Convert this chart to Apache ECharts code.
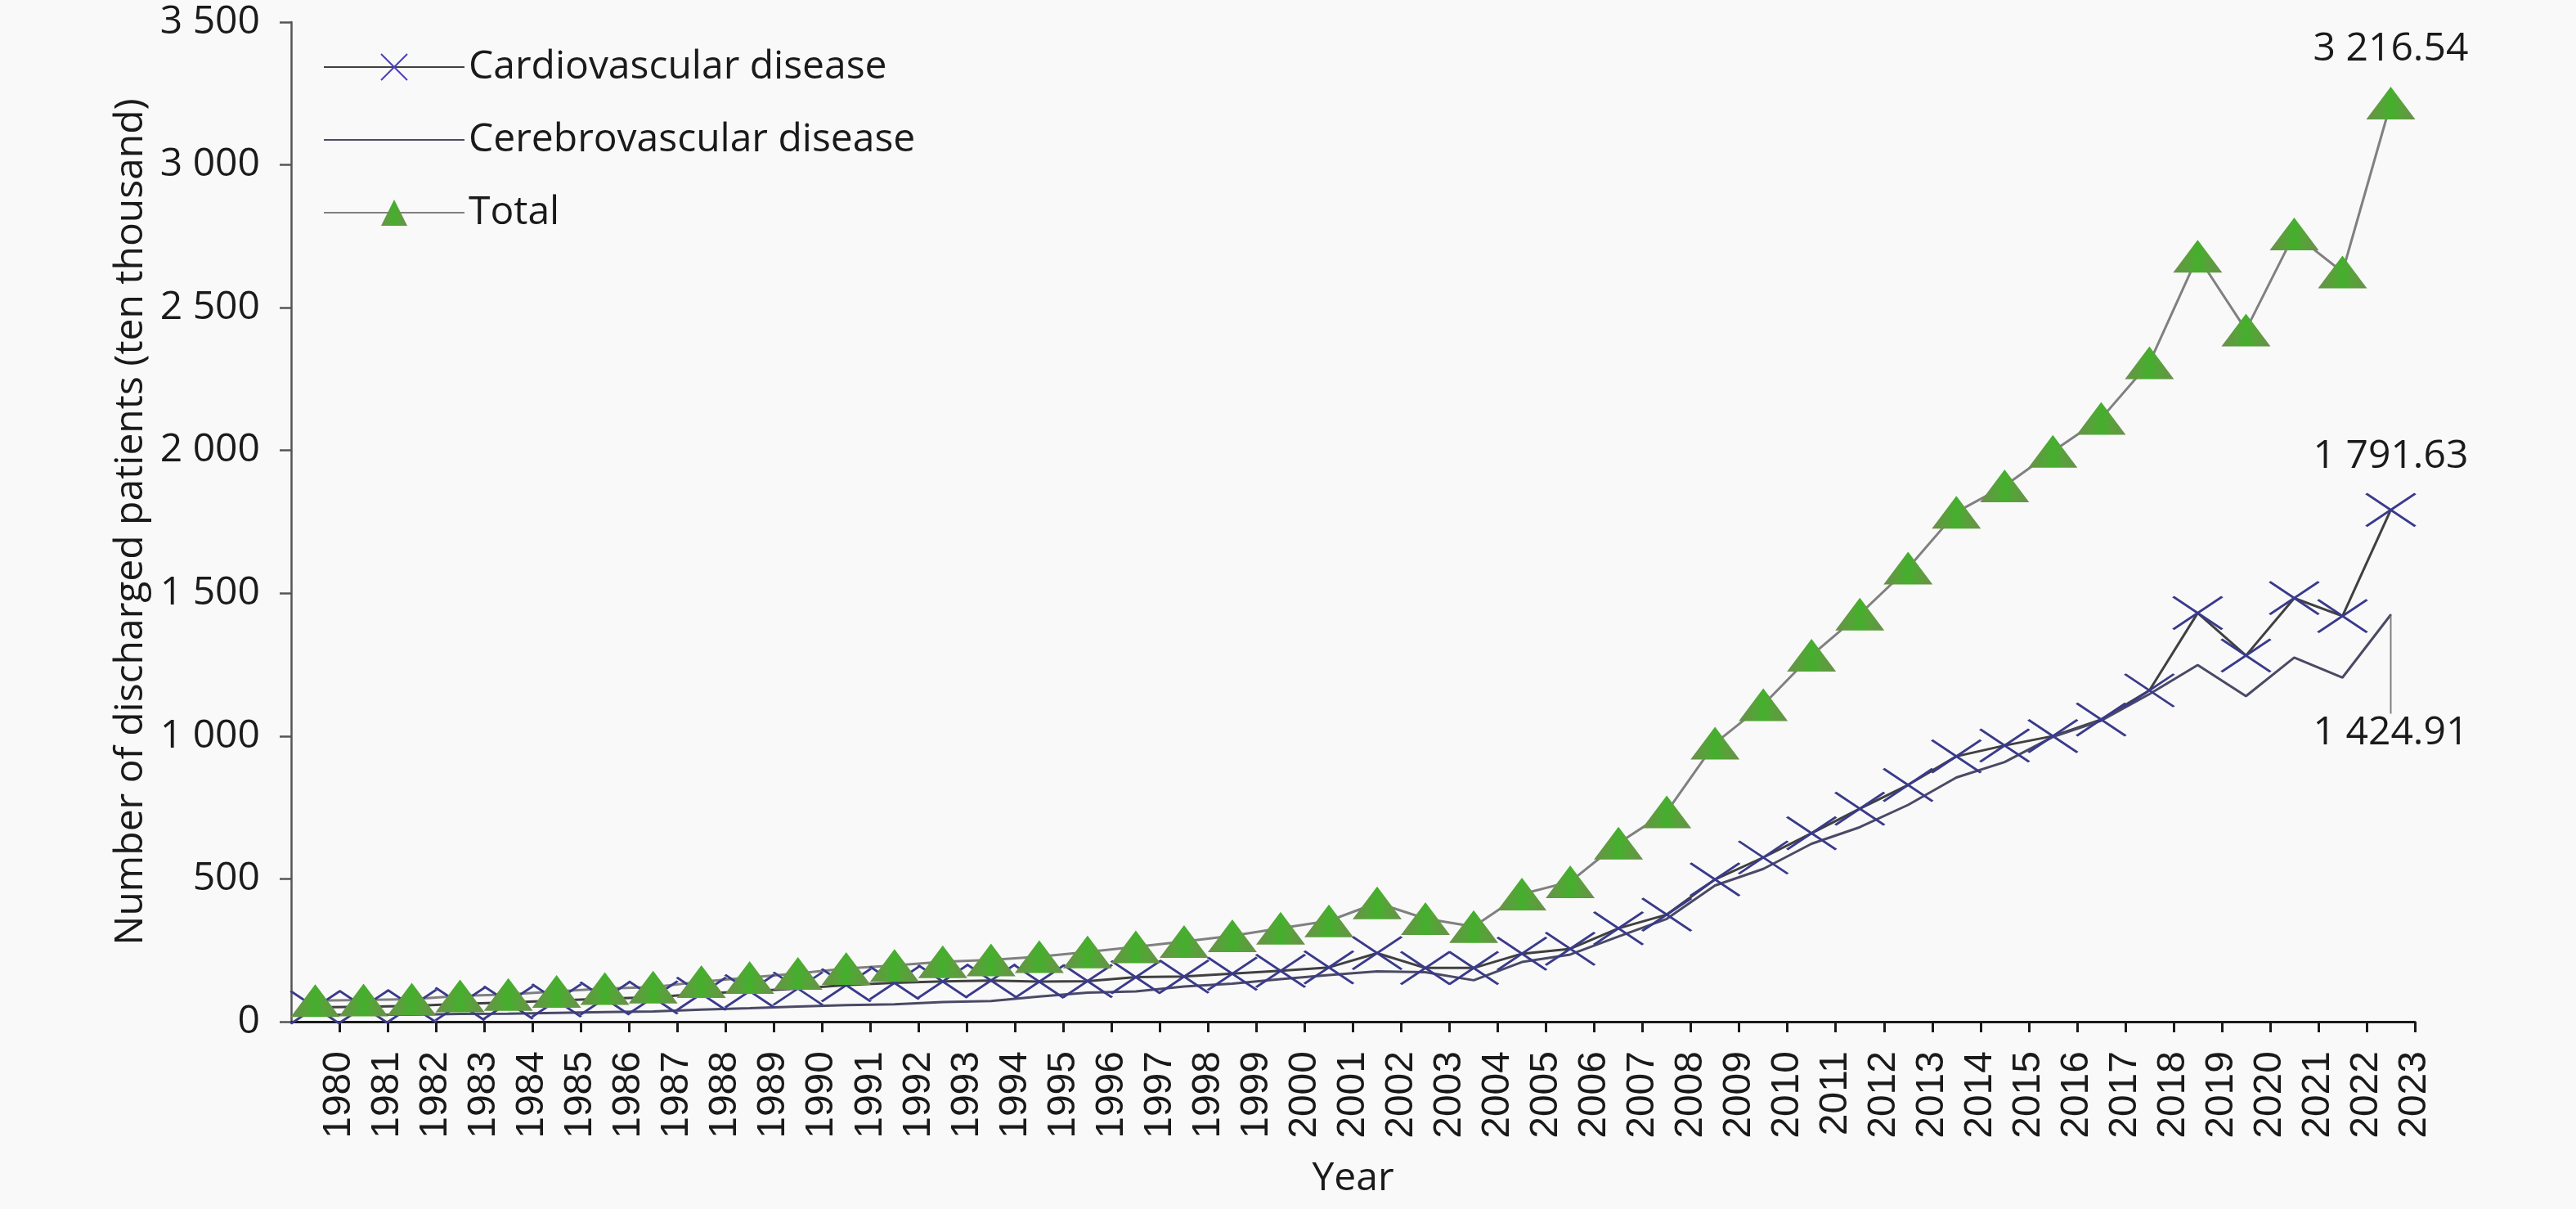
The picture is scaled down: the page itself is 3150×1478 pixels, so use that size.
<!DOCTYPE html>
<html style="height: 100%">
  <head>
    <meta charset="utf-8" />
  </head>
  <body style="height: 100%; margin: 0; background: #f9f9f9">
    <div id="container" style="width: 3150px; height: 1478px"></div>
    <script
      type="text/javascript"
      src="https://cdn.jsdelivr.net/npm/echarts@6/dist/echarts.min.js"
    ></script>
    <script type="text/javascript">
      var dom = document.getElementById('container');
      var myChart = echarts.init(dom, null, { renderer: 'canvas', devicePixelRatio: 1 });

      // years on the x axis
      var years = [
        '1980', '1981', '1982', '1983', '1984', '1985', '1986', '1987', '1988', '1989',
        '1990', '1991', '1992', '1993', '1994', '1995', '1996', '1997', '1998', '1999',
        '2000', '2001', '2002', '2003', '2004', '2005', '2006', '2007', '2008', '2009',
        '2010', '2011', '2012', '2013', '2014', '2015', '2016', '2017', '2018', '2019',
        '2020', '2021', '2022', '2023'
      ];
      // discharged patients, ten thousand
      var cardio = [
        50, 52, 55, 62, 67, 74, 81, 85, 98, 107,
        116, 128, 136, 141, 144, 140, 142, 156, 158, 168,
        178, 190, 240, 188, 188, 238, 255, 327, 375, 498,
        575, 660, 746, 829, 929, 967, 1000, 1058, 1160, 1431,
        1282, 1483, 1420, 1791.63
      ];
      var cerebro = [
        24, 24, 24, 27, 28, 31, 34, 36, 42, 47,
        53, 58, 61, 69, 72, 88, 102, 106, 123, 133,
        149, 163, 176, 173, 145, 209, 235, 298, 360, 477,
        535, 623, 681, 759, 855, 909, 997, 1054, 1147, 1249,
        1140, 1275, 1205, 1424.91
      ];
      var total = [
        74, 76, 79, 90, 95, 106, 116, 121, 140, 155,
        169, 186, 197, 210, 216, 228, 244, 262, 281, 301,
        327, 353, 416, 361, 333, 447, 490, 625, 735, 975,
        1110, 1283, 1427, 1588, 1784, 1876, 1997, 2112, 2307, 2680,
        2422, 2758, 2625, 3216.54
      ];

      var last = years.length - 1;

      // 3216.54 -> "3 216.54"
      function spaced(v, digits) {
        var s = Number(v).toFixed(digits);
        var parts = s.split('.');
        var head = parts[0].replace(/\B(?=(\d{3})+(?!\d))/g, ' ');
        return parts[1] ? head + '.' + parts[1] : head;
      }

      function withLastLabel(arr) {
        return arr.map(function (v, i) {
          if (i === last) return { value: v, label: { show: true } };
          return v;
        });
      }

      var textFont = 'Open Sans';
      var cross = 'path://M0,0L60,40M60,0L0,40';
      var green = {
        type: 'linear', x: 0, y: 0, x2: 1, y2: 0,
        colorStops: [
          { offset: 0, color: '#6a8f4c' },
          { offset: 0.3, color: '#58a23a' },
          { offset: 0.5, color: '#43b02c' },
          { offset: 0.7, color: '#58a23a' },
          { offset: 1, color: '#6a8f4c' }
        ]
      };

      var cerebroData = cerebro.map(function (v, i) {
        if (i === last) return { value: v, symbol: 'circle', symbolSize: 2, label: { show: true } };
        return v;
      });

      var option = {
        animation: false,
        backgroundColor: '#f9f9f9',
        grid: { left: 356, right: 197, top: 27, bottom: 229 },
        legend: {
          orient: 'vertical',
          left: 390,
          top: 53,
          itemWidth: 172,
          itemHeight: 40,
          itemGap: 41,
          textStyle: { fontFamily: textFont, fontSize: 48, color: '#1a1a1a' },
          data: [
            { name: 'Cardiovascular disease', itemStyle: { borderColor: '#4a3fc0' } },
            { name: 'Cerebrovascular disease', itemStyle: { opacity: 0 } },
            'Total'
          ]
        },
        xAxis: [
          {
            type: 'category',
            data: years,
            boundaryGap: true,
            show: false
          },
          {
            type: 'category',
            position: 'bottom',
            data: [''].concat(years),
            boundaryGap: false,
            name: 'Year',
            nameLocation: 'middle',
            nameGap: 168,
            nameTextStyle: { fontFamily: textFont, fontSize: 48, color: '#1a1a1a' },
            axisLine: { show: true, lineStyle: { color: '#1a1a1a', width: 3 } },
            axisTick: {
              show: true,
              length: 13,
              interval: function (index) { return index > 0; },
              lineStyle: { color: '#1a1a1a', width: 3 }
            },
            axisLabel: {
              interval: 0,
              rotate: 90,
              margin: 36,
              fontFamily: 'Liberation Sans',
              fontSize: 48,
              color: '#1a1a1a'
            },
            splitLine: { show: false }
          }
        ],
        yAxis: {
          type: 'value',
          min: 0,
          max: 3500,
          interval: 500,
          name: 'Number of discharged patients (ten thousand)',
          nameLocation: 'middle',
          nameGap: 172,
          nameTextStyle: { fontFamily: textFont, fontSize: 48, color: '#1a1a1a' },
          axisLine: { show: true, lineStyle: { color: '#555555', width: 2.5 } },
          axisTick: { show: true, length: 14, lineStyle: { color: '#555555', width: 2.5 } },
          axisLabel: {
            margin: 38,
            fontFamily: textFont,
            fontSize: 48,
            color: '#1a1a1a',
            formatter: function (v) { return spaced(v, 0); }
          },
          splitLine: { show: false }
        },
        series: [
          {
            name: 'Cardiovascular disease',
            type: 'line',
            xAxisIndex: 0,
            data: withLastLabel(cardio),
            symbol: cross,
            symbolSize: [60, 40],
            showAllSymbol: true,
            lineStyle: { color: '#404040', width: 3 },
            itemStyle: { color: 'rgba(0,0,0,0)', borderColor: '#3a3a8c', borderWidth: 3 },
            label: {
              show: false,
              position: 'top',
              distance: 20,
              fontFamily: textFont,
              fontSize: 48,
              color: '#1a1a1a',
              formatter: function (p) { return spaced(p.value, 2); }
            },
            emphasis: { disabled: true }
          },
          {
            name: 'Cerebrovascular disease',
            type: 'line',
            xAxisIndex: 0,
            data: cerebroData,
            symbol: 'none',
            lineStyle: { color: '#4a4a66', width: 3 },
            itemStyle: { color: '#4a4a66' },
            label: {
              show: false,
              position: 'bottom',
              distance: 20,
              fontFamily: textFont,
              fontSize: 48,
              color: '#1a1a1a',
              formatter: function (p) { return spaced(p.value, 2); }
            },
            labelLayout: { dy: 100 },
            labelLine: { show: true, lineStyle: { color: '#808080', width: 2 } },
            emphasis: { disabled: true }
          },
          {
            name: 'Total',
            type: 'line',
            xAxisIndex: 0,
            data: withLastLabel(total),
            symbol: 'triangle',
            symbolSize: [60, 40],
            showAllSymbol: true,
            lineStyle: { color: '#808080', width: 3 },
            itemStyle: { color: green, borderWidth: 0 },
            label: {
              show: false,
              position: 'top',
              distance: 22,
              fontFamily: textFont,
              fontSize: 48,
              color: '#1a1a1a',
              formatter: function (p) { return spaced(p.value, 2); }
            },
            emphasis: { disabled: true }
          }
        ]
      };

      myChart.setOption(option);
    </script>
  </body>
</html>
